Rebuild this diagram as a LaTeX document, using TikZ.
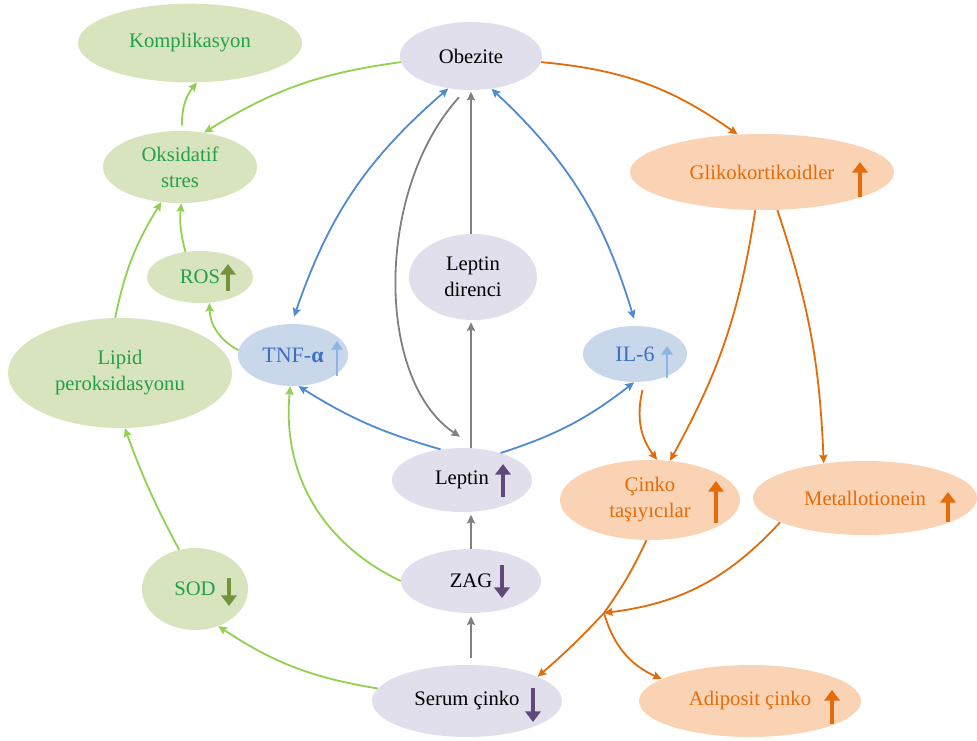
\documentclass[tikz,border=0pt]{standalone}
\usepackage{fontspec}
\setmainfont{Liberation Serif}
\usetikzlibrary{shapes.geometric,arrows.meta,calc}
\definecolor{gfill}{HTML}{D7E4BD}
\definecolor{gtext}{HTML}{23A04A}
\definecolor{gline}{HTML}{92D050}
\definecolor{olivem}{HTML}{76923C}
\definecolor{pfill}{HTML}{E2DFEC}
\definecolor{purp}{HTML}{5F497A}
\definecolor{bfill}{HTML}{C9D7EB}
\definecolor{btext}{HTML}{3E70C0}
\definecolor{bline}{HTML}{4F8BD0}
\definecolor{bmark}{HTML}{8DB4E2}
\definecolor{ofill}{HTML}{FAD3B4}
\definecolor{otext}{HTML}{E46C0A}
\definecolor{oline}{HTML}{E26B0A}
\definecolor{grayl}{HTML}{808080}
\begin{document}
\begin{tikzpicture}[x=0.75pt,y=-0.75pt,
  ell/.style={ellipse, inner sep=0pt, align=center, font=\fontsize{15.5}{19.5}\selectfont},
  gnode/.style={ell, fill=gfill, text=gtext},
  pnode/.style={ell, fill=pfill, text=black},
  bnode/.style={ell, fill=bfill, text=btext, font=\fontsize{16.5}{20}\selectfont},
  onode/.style={ell, fill=ofill, text=otext},
  conn/.style={line width=1.35pt, -{Stealth[length=6.5pt,width=6pt,inset=1pt]}},
  dconn/.style={line width=1.35pt, {Stealth[length=6.5pt,width=6pt,inset=1pt]}-{Stealth[length=6.5pt,width=6pt,inset=1pt]}},
  umark/.style={line width=2.4pt, -{Triangle[length=8pt,width=11.5pt]}},
  tmark/.style={line width=1.3pt, -{Triangle[length=6.5pt,width=8.5pt]}}
]
\fill[white] (0,0) rectangle (977,740);
\useasboundingbox (0,0) rectangle (977,740);

% nodes
\node[gnode, minimum width=168pt, minimum height=59pt] (kompl) at (190,43) {Komplikasyon};
\node[gnode, minimum width=115.5pt, minimum height=54pt] (oks) at (180,167) {Oksidatif\\stres};
\node[gnode, minimum width=79.5pt, minimum height=39pt] (ros) at (200,277) {ROS};
\node[gnode, minimum width=168pt, minimum height=82.5pt] (lipid) at (120,373) {Lipid\\peroksidasyonu};
\node[gnode, minimum width=79.5pt, minimum height=61.5pt] (sod) at (195,589) {SOD};
\node[bnode, minimum width=82.5pt, minimum height=46.5pt] (tnf) at (293,355) {TNF-\textbf{α}};
\node[pnode, minimum width=106.5pt, minimum height=51pt] (obez) at (471,56) {Obezite};
\node[pnode, minimum width=96pt, minimum height=64.5pt] (dir) at (473,277) {Leptin\\direnci};
\node[bnode, minimum width=78pt, minimum height=42pt] (il6) at (635,354) {IL-6};
\node[onode, minimum width=198pt, minimum height=57pt] (gluko) at (762,172) {Glikokortikoidler};
\node[pnode, minimum width=105pt, minimum height=48pt] (leptin) at (462,480) {Leptin};
\node[pnode, minimum width=105pt, minimum height=48pt] (zag) at (471,581) {ZAG};
\node[pnode, minimum width=142.5pt, minimum height=54pt] (serum) at (467,701) {Serum çinko};
\node[onode, minimum width=166.5pt, minimum height=54pt] (adipo) at (750,701) {Adiposit çinko};
\node[onode, minimum width=135pt, minimum height=60pt] (cinko) at (650,500) {Çinko\\taşıyıcılar};
\node[onode, minimum width=168pt, minimum height=55.5pt] (metallo) at (865,498) {Metallotionein};

% up / down markers
\draw[umark, olivem] ([shift={(28,14)}]ros.center) -- ++(0,-27);
\draw[umark, olivem] ([shift={(34,-11)}]sod.center) -- ++(0,28);
\draw[tmark, bmark] ([shift={(44,21)}]tnf.center) -- ++(0,-35);
\draw[tmark, bmark] ([shift={(32,24)}]il6.center) -- ++(0,-32);
\draw[umark, purp] ([shift={(41,17)}]leptin.center) -- ++(0,-33);
\draw[umark, purp] ([shift={(31,-16)}]zag.center) -- ++(0,33);
\draw[umark, purp] ([shift={(66,-13)}]serum.center) -- ++(0,34);
\draw[umark, otext] ([shift={(98,25)}]gluko.center) -- ++(0,-35);
\draw[umark, otext] ([shift={(66,23)}]cinko.center) -- ++(0,-42);
\draw[umark, otext] ([shift={(83,24)}]metallo.center) -- ++(0,-30);
\draw[umark, otext] ([shift={(82,23)}]adipo.center) -- ++(0,-34);

% green connectors
\draw[conn, gline] (obez.185) to[bend right=12] (oks.55);
\draw[conn, gline] ($(oks.north)+(2,-5)$) to[bend left=20] (kompl.-80);
\draw[conn, gline] (ros.120) to[bend left=10] (oks.-88);
\draw[conn, gline] (lipid.95) to[bend left=10] (oks.-118);
\draw[conn, gline] (tnf.175) to[bend left=30] (ros.-70);
\draw[conn, gline] (zag.180) to[bend left=35] (tnf.-95);
\draw[conn, gline] (sod.112) to[bend left=4] (lipid.-85);
\draw[conn, gline] (serum.172) to[bend left=12] (sod.-58);

% blue connectors
\draw[dconn, bline] (obez.-125) to[bend right=15] ($(tnf.north)+(1,-7)$);
\draw[dconn, bline] (obez.-58) to[bend left=15] ($(il6.north)+(-1,-7)$);
\draw[conn, bline] (leptin.125) to[bend left=8] (tnf.-80);
\draw[conn, bline] (leptin.35) to[bend right=10] (il6.-92);

% gray connectors
\draw[conn, grayl] ($(obez.south)+(-12,7)$) .. controls (375,190) and (375,380) .. ($(leptin.north)+(-2,-11)$);
\draw[conn, grayl] ($(dir.south)+(-2,128)$) -- ($(dir.south)+(-2,2)$);
\draw[conn, grayl] ($(dir.north)+(-2,0)$) -- ($(dir.north)+(-2,-142)$);
\draw[conn, grayl] (zag.north) -- ($(zag.north)+(0,-34)$);
\draw[conn, grayl] ($(serum.north)+(4,-7)$) -- ($(zag.south)+(0,3)$);

% orange connectors
\coordinate (J) at (604,613);
\draw[conn, oline] (obez.-5) to[bend left=15] (gluko.123);
\draw[conn, oline] (gluko.-100) to[bend left=10] (cinko.63);
\draw[conn, oline] (gluko.-68) to[bend left=8] (metallo.140);
\draw[conn, oline] ($(il6.-75)+(0,8)$) to[bend right=25] (cinko.80);
\draw[line width=1.35pt, oline] (cinko.-95) to[bend left=5] (J);
\draw[conn, oline] (metallo.-164) to[bend left=20] (J);
\draw[conn, oline] (J) to[bend left=3] (serum.19);
\draw[conn, oline] (J) to[bend right=25] (adipo.166);
\end{tikzpicture}
\end{document}
